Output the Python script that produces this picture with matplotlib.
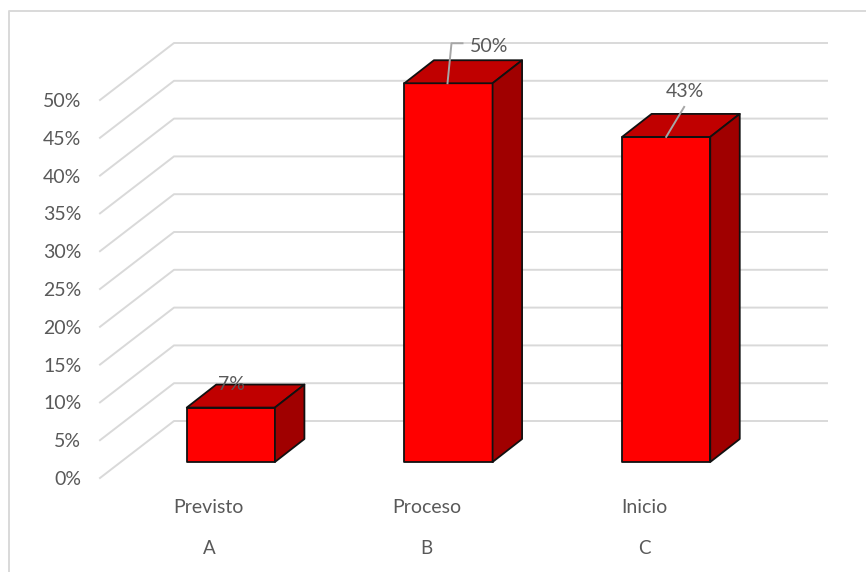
import matplotlib.pyplot as plt
from matplotlib.patches import Polygon
from matplotlib.lines import Line2D
from matplotlib.transforms import Affine2D

# data
categories = ['Previsto', 'Proceso', 'Inicio']
letters = ['A', 'B', 'C']
values = [7.2, 50.1, 43.0]
value_labels = ['7%', '50%', '43%']
ticks = [0, 5, 10, 15, 20, 25, 30, 35, 40, 45, 50]

# 3d look, all in pixels (dpi is 100)
W, H = 866, 572
WALL_DX, WALL_DY = 74, 57     # front plane -> back wall
BAR_DX, BAR_DY = 22, 16       # front plane -> bar front
DEPTH_DX, DEPTH_DY = 29.5, 23   # bar depth
BAR_WIDTH = 0.405
GREY = '#595959'
GRID = '#D9D9D9'
LEADER = '#A6A6A6'

plt.rcParams['font.family'] = ['Lato', 'DejaVu Sans']

fig = plt.figure(figsize=(W / 100, H / 100), dpi=100)
left, right, top, bottom = 100, 753, 100, 478
ax = fig.add_axes([left / W, 1 - bottom / H, (right - left) / W, (bottom - top) / H])
ax.set_xlim(-0.5, 2.5)
ax.set_ylim(0, 50)
ax.patch.set_visible(False)
for s in ax.spines.values():
    s.set_visible(False)


def shifted(dx, dy):
    # data coords moved by some pixels into the depth of the chart
    return ax.transData + Affine2D().translate(dx, dy)


# gridlines, front corner to back wall and then along the wall
for t in ticks:
    p0 = ax.transData.transform((-0.5, t))
    p1 = shifted(WALL_DX, WALL_DY).transform((-0.5, t))
    p2 = shifted(WALL_DX, WALL_DY).transform((2.5, t))
    fig.add_artist(Line2D([p0[0], p1[0], p2[0]], [p0[1], p1[1], p2[1]], transform=None,
                          color=GRID, lw=1.4, zorder=0))

# bars
for i, v in enumerate(values):
    x0 = i - BAR_WIDTH / 2
    x1 = i + BAR_WIDTH / 2
    tr = shifted(BAR_DX, BAR_DY)
    a = tr.transform((x0, 0))
    b = tr.transform((x1, 0))
    c = tr.transform((x1, v))
    d = tr.transform((x0, v))
    off = (DEPTH_DX, DEPTH_DY)
    faces = [
        ([a, b, c, d], '#FF0000'),
        ([d, c, c + off, d + off], '#C00000'),
        ([b, b + off, c + off, c], '#A00000'),
    ]
    for pts, col in faces:
        fig.add_artist(Polygon(pts, closed=True, transform=None, facecolor=col,
                               edgecolor='#111111', lw=1.3, joinstyle='round', zorder=2))


# leader lines, from the top of the bar up to the label
def leader(i, pts):
    base = shifted(BAR_DX, BAR_DY).transform((i, values[i]))
    xs = [base[0] + p[0] for p in pts]
    ys = [base[1] + p[1] for p in pts]
    fig.add_artist(Line2D(xs, ys, transform=None, color=LEADER, lw=1.4, zorder=3))


leader(1, [(-1, 0), (3, 40), (14, 40)])
leader(2, [(0, 0), (18, 30)])

# data labels
label_offsets = [(1, 23), (41, 37), (19, 45)]
for i, v in enumerate(values):
    ax.annotate(value_labels[i], (i, v), xycoords=shifted(BAR_DX, BAR_DY),
                xytext=label_offsets[i], textcoords='offset pixels',
                ha='center', va='center', fontsize=14, color=GREY,
                annotation_clip=False)

# axis labels
ax.set_yticks(ticks, [f'{t}%' for t in ticks])
ax.set_xticks(range(len(categories)), categories)
ax.tick_params(axis='y', length=0, pad=13.5, labelsize=14, labelcolor=GREY)
ax.tick_params(axis='x', length=0, pad=15, labelsize=14, labelcolor=GREY)
for i, s in enumerate(letters):
    ax.annotate(s, (i, 0), xytext=(0, -71), textcoords='offset pixels', ha='center', va='center',
                fontsize=13.5, color=GREY, annotation_clip=False)

# frame of the picture, only top and left show
fig.add_artist(Line2D([9, 9, W], [0, H - 11, H - 11], transform=None, color=GRID, lw=1.4, zorder=0))

ax.set_zorder(10)
fig.savefig('out.png', dpi=100)
